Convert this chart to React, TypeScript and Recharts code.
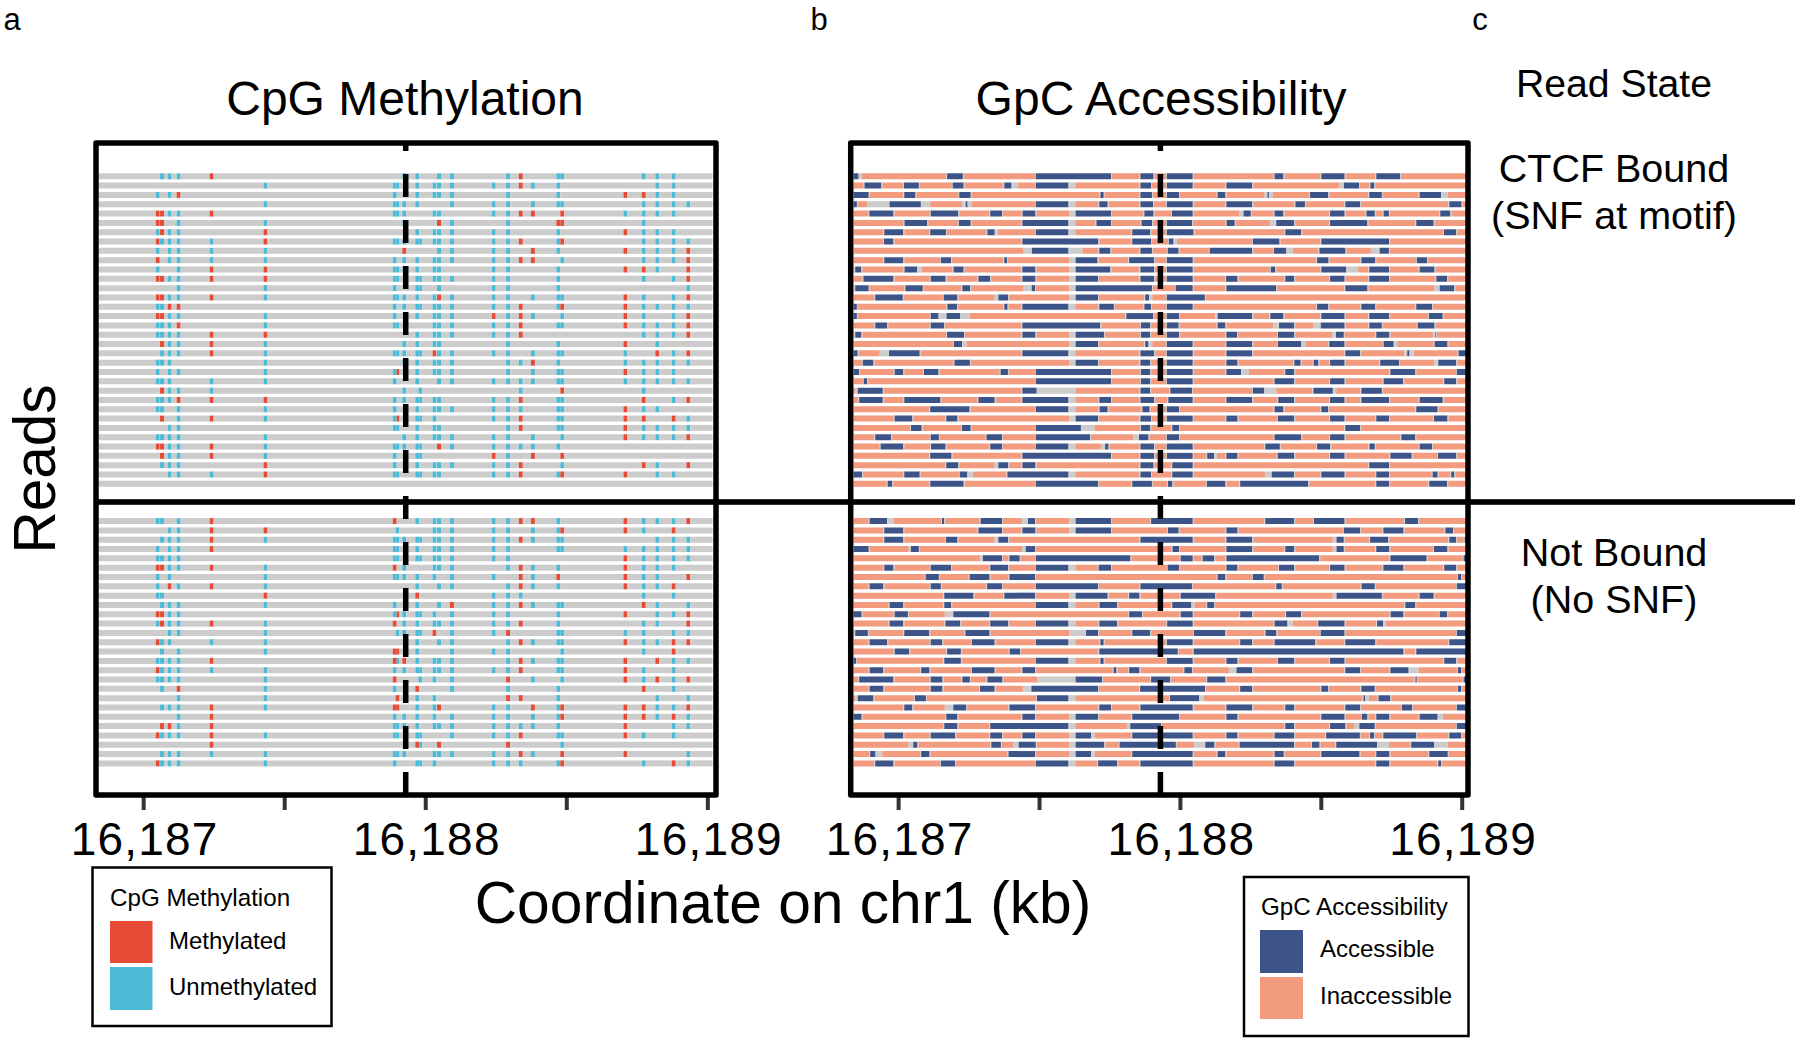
import React from "react";
import { BarChart, Bar, XAxis, YAxis, Cell, ReferenceLine } from "recharts";

// All positions are base pairs from the start of the plotted window on chr1.
const windowStartKb = 16186.831;
const axisTicks = [169, 669, 1169, 1669, 2169];
const motifCentre = 1098;
const readStart = 9;
const readEnd = 2186;

const cpgSites = [219, 234, 261, 293, 410, 601, 1059, 1069, 1093, 1139, 1150, 1200, 1216, 1262, 1410, 1461, 1506, 1549, 1639, 1653, 1877, 1942, 1990, 2048, 2100];

// One character per CpG site: u unmethylated, m methylated, . no call
const cpgBound = [
  ".uuum ...uu ..uu. um.uu .uuu.",
  "..... uuu.u .uuuu umuu. ..uu.",
  "u.um. .u..u .uuu. u..u. mmuu.",
  "..... uuuuu ...uu u.uuu .uuuu",
  "mmuum .uuu. .uu.u umm.m uuuu.",
  "mm.u. u..u. ..mu. u..mm .u...",
  "umuu. m...u .uuuu u..u. muuu.",
  "muuuu muuuu uuuuu um.um .uuuu",
  "u.uuu u..m. ..uuu u.mu. muuum",
  "m.uuu uu.uu .uuuu umm.u .uuum",
  "u..um muuuu .uu.u u..u. mmu.m",
  "mmuum muu.u uuuuu u..u. .u.um",
  "...u. uu..u u.u.u u..u. ....u",
  "mmuum uuuuu .umuu u.uuu mu.um",
  "uumm. .u.uu uuuuu um.um muuuu",
  "mmuu. uu..u .uuum umu.u mu.um",
  "uuum. uuu.. .uuuu um.uu muuum",
  "uuuum m...u .uuuu um... .uuum",
  ".muum u..uu .uu.. u..u. m.u..",
  ".uuum uuuuu umuuu u.uuu u.mum",
  "uuu.. u..uu .uuu. uumu. uuuuu",
  "u.uu. uum.u .uuu. u.uuu muuu.",
  "uuu.u uu..u ..uuu uuuuu uuuuu",
  ".muuu ...u. u.... .u..m .u...",
  "uuumm mu.uu uuu.u um.uu .m.um",
  "uu.u. uu..u .uuuu uu.uu muu..",
  ".m.um uum.u uu..u um.uu mm.mu",
  "..uu. .uu.u .uu.. um.uu muuuu",
  "uuuu. u..uu .uuuu u.u.u muuum",
  "mmuum uuuuu u.muu uuuu. .....",
  ".muum uu..u u...m u.m.m .....",
  ".uuu. mu..u .uuuu um..u .mu.m",
  "..uuu muu.u uuu.u um.um m.uu.",
  "..... ..... ..... ..... .....",
];

const cpgFree = [
  "uu.um .m..u .uuuu ummu. muuum",
  "..uum m.u.. .uuuu u.uum mu.m.",
  ".uuum uuuuu uuuuu umuuu ..uuu",
  "u.uum .uu.u .uuuu u..uu uuuuu",
  "uuuu. .uu.u uuuuu u.... muuuu",
  "mmuum um.u. .uuu. umuu. muuu.",
  "u.u.. uuuuu .u.uu .mum. muu.m",
  "u.mum u...u ..uu. umuu. muum.",
  "uu... m...m ....u uu... .u.u.",
  ".uuu. uu..u ..umu umuuu .mu.u",
  "mmuu. .umuu uu.uu u..u. m.uum",
  "umuum um.uu .uuuu um.u. .uu.m",
  "..uu. u.uuu um.uu m..uu uu.uu",
  "muu.u u...u ..uu. umuuu muumm",
  ".u.u. umm.u ...uu u...u .u.m.",
  "uuuum .mumu .uuu. umuuu m.muu",
  "muuuu uu.uu uuuuu um.uu mu.u.",
  "uuuu. um... uu.u. m.u.u mumum",
  ".u.m. uu..m ...u. u..u. .m.u.",
  "...u. u.m.u .u... mm.u. ..u.u",
  ".uuum umm.u .um.u u.mum mmuum",
  "...um .u.uu .u.uu u.uum mmumu",
  ".mmum .uuuu .uuuu uuuu. m..uu",
  "muuum uuu.u u..uu um.uu mu.u.",
  "....m ....m u.m.. m...u .....",
  ".uuuu uuuu. .uuuu umu.m m...u",
  "muuu. uu..u uu..u uu.um .u.mu",
];

// Start/end pairs of the accessible stretches of each read
const gpcAccessibleBound = [
  [9,27,341,397,656,923,1027,1074,1121,1213,1503,1535,1669,1752,1864,1949],
  [48,108,188,241,361,400,544,570,656,772,1027,1065,1121,1213,1332,1424,1749,1803,1843,1857],
  [9,63,189,229,384,425,885,897,1027,1068,1121,1164,1301,1329,1478,1483,1629,1694,1839,1884,2018,2094],
  [9,21,137,248,407,414,656,772,881,911,1027,1072,1121,1213,1332,1424,1577,1611,1754,1807,2123,2167],
  [65,151,283,381,494,536,609,655,797,923,1041,1074,1139,1213,1393,1419,1503,1535,1700,1752,1829,1859,1890,1909,2091,2127],
  [190,271,383,425,608,772,871,923,1031,1069,1121,1211,1333,1362,1509,1573,1700,1833,2006,2068],
  [118,186,281,337,484,510,656,772,998,1062,1121,1216,1541,1598,2104,2148],
  [117,151,608,878,998,1065,1128,1145,1426,1521,1669,1910],
  [642,772,881,921,1027,1068,1124,1163,1273,1424,1501,1545,1662,1755,1876,1909],
  [118,186,319,355,544,554,797,875,987,1076,1121,1213,1654,1695,1811,1861,2008,2044],
  [15,37,190,235,364,400,608,655,797,921,1027,1076,1121,1213,1490,1506,1669,1758,1839,1910,2018,2071],
  [44,151,283,336,452,494,608,655,797,877,1027,1076,1121,1213,1331,1372,1541,1573,1700,1752,1839,1910,2077,2116],
  [15,63,193,255,395,423,641,653,797,1068,1152,1213,1332,1509,1754,1833,2089,2141],
  [86,184,329,378,523,558,797,877,1044,1058,1121,1256],
  [9,21,342,377,544,556,608,772,881,933,1041,1065,1121,1213,1654,1694,1811,1861,2006,2062],
  [9,21,283,311,339,388,977,1072,1121,1164,1301,1424,1488,1535,1669,1752,1839,1910,2051,2100],
  [86,129,283,330,608,885,1029,1062,1121,1163,1301,1329,1519,1573,1667,1752,1839,1884,2011,2071],
  [15,37,341,401,608,655,797,898,1029,1062,1121,1164,1332,1370,1515,1573,1721,1749,1864,1911,2074,2077],
  [365,394,797,877,1044,1056,1121,1213,1332,1424,1515,1598,1697,1752,1890,1926,2071,2117],
  [9,24,135,244,608,772,1027,1076,1121,1213,1332,1424,1754,1807,1974,1982,2156,2186],
  [42,80,367,422,797,877,1027,1062,1121,1213,1332,1372,1573,1596,1642,1659,1700,1752,1878,1945,2084,2148],
  [9,29,155,186,259,311,531,557,656,923,1029,1062,1121,1213,1332,1384,1541,1573,1914,2003,2150,2186],
  [45,58,656,923,1029,1062,1121,1213,1503,1573,1700,1752,1890,1960,2105,2148],
  [24,113,608,659,1027,1062,1133,1210,1426,1467,1641,1710,1811,1884],
  [29,113,189,318,452,510,608,772,881,923,1027,1076,1126,1213,1332,1424,1516,1573,1700,1752,1811,1910,2018,2100],
  [281,421,656,772,882,911,1034,1060,1121,1164,1503,1535,1669,1693,2006,2082],
  [155,218,338,378,797,877,1027,1065,1121,1213,1332,1372,1515,1573,1700,1752,1864,1910,2069,2117],
  [213,251,394,425,656,816,1029,1062,1140,1164,1754,1807],
  [86,143,283,312,481,536,656,849,1022,1056,1121,1164,1503,1598,1700,1752,1953,2003],
  [105,186,284,336,494,536,656,772,902,914,1027,1076,1121,1213,1470,1522,1654,1701,1840,1859,2018,2062],
  [281,357,608,923,1027,1076,1121,1213,1264,1289,1332,1372,1514,1573,1700,1752,1914,1990,2083,2148],
  [338,381,523,558,608,655,1027,1074,1140,1213,1839,1910],
  [9,39,189,244,386,413,555,772,1027,1065,1140,1213,1493,1572,1669,1752,1864,1910,2064,2082,2130,2141],
  [130,147,281,400,656,877,998,1068,1125,1141,1263,1329,1381,1623,1864,1910,2052,2116],
];

// Start/end pairs of the stretches with no call on each read
const gpcNoCallBound = [
  [27,39],
  [539,544,572,593,774,796,1732,1748],
  [1468,1478,1483,1497,2095,2118],
  [59,137,249,281,394,407,414,429,774,796],
  [774,796,1379,1391],
  [774,796,1488,1507],
  [510,522,774,796],
  [1147,1157],
  [613,642,774,821,1547,1568,1845,1876],
  [774,796],
  [236,252,774,796,1758,1800],
  [774,796],
  [613,640,774,796,2071,2087],
  [510,523,774,796,1059,1069],
  [774,796],
  [313,336,390,421,1293,1301],
  [1500,1517,1642,1665],
  [774,796,1708,1720,2065,2074,2077,2079],
  [395,410,774,796,1058,1069,1600,1612,1927,1938],
  [102,135,774,796,1964,1974,1982,1997],
  [774,796,2070,2082],
  [1386,1412],
  [],
  [15,24,660,796,1467,1509,1711,1722],
  [774,796],
  [774,796],
  [774,796],
  [817,864],
  [1003,1021],
  [774,796,887,902],
  [1292,1299],
  [510,523],
  [414,433,774,796,1470,1491],
  [],
];

const gpcAccessibleFree = [
  [66,128,323,331,460,536,628,654,797,923,1065,1213,1470,1573,1643,1752,1966,2013],
  [118,186,452,536,608,655,797,923,1125,1163,1332,1372,1749,1807,1889,1961,2109,2137],
  [118,186,337,378,523,558,1027,1213,1332,1424,1723,1749,1842,1907,2123,2147,2178,2186],
  [9,63,213,241,620,654,1141,1164,1332,1424,1541,1573,1723,1749,1864,1911,2069,2117],
  [468,536,562,599,656,992,1170,1213,1248,1289,1332,1662,1914,2043,2174,2186],
  [118,151,283,356,494,558,656,772,879,923,1124,1164,1332,1372,1519,1573,1700,1752,1889,1961,2105,2148],
  [265,312,421,492,562,653,1301,1329,1426,1465,2154,2166],
  [66,115,283,319,483,536,656,877,1027,1210,1509,1529,1812,1859,2150,2186],
  [331,435,544,654,797,911,987,1024,1170,1293,1723,1884,2018,2068],
  [137,186,331,356,656,772,882,945,1140,1208,1264,1289,1967,2003],
  [9,38,155,202,363,492,987,1033,1170,1213,1381,1424,1544,1598,1915,1961,2089,2116],
  [137,186,335,388,494,558,656,772,881,945,1122,1213,1503,1549,1658,1752,1867,1888],
  [15,60,189,278,406,492,834,877,998,1062,1217,1329,1471,1510,1667,1752,2150,2186],
  [66,129,283,324,429,510,656,772,885,897,1121,1213,1381,1424,1503,1648,1754,1861,2123,2186],
  [155,207,341,390,563,600,881,1160,1216,1961,2006,2186],
  [9,18,331,390,656,772,885,897,1121,1213,1332,1372,1515,1573,1700,1752,2105,2148],
  [66,115,249,279,429,510,608,654,932,942,987,1024,1183,1210,1368,1424,1754,1807,1914,1979,2154,2166],
  [29,151,283,325,395,422,484,538,797,891,1065,1133,1264,1329,2003,2008,2174,2186],
  [66,115,283,325,458,510,640,877,1026,1257,1381,1424,1669,1693,1811,1859,2154,2166],
  [24,80,227,266,660,772,1132,1236,1819,1825,1872,1914],
  [189,218,363,409,562,654,881,923,1027,1213,1332,1424,1541,1573,1754,1807,1955,1991,2150,2186],
  [9,38,338,378,608,654,797,877,998,1164,1332,1372,1669,1752,1813,1833,1864,1911,2018,2082],
  [331,378,494,772,991,1100,1541,1573,1700,1755,1804,1859,2150,2186],
  [118,186,283,370,494,536,608,654,797,852,998,1213,1332,1372,1503,1573,1686,1806,1842,1857,1889,2006,2123,2166],
  [221,236,498,532,595,656,797,899,953,1153,1257,1290,1379,1573,1636,1663,1722,1867,1988,2070],
  [68,87,249,279,559,654,797,852,998,1213,1301,1329,1503,1536,1669,1805,1864,1911,2052,2118],
  [86,151,319,369,656,772,877,945,1027,1213,1503,1573,1864,1911,2084,2094],
];

const gpcNoCallFree = [
  [129,151,607,627,774,796],
  [774,796],
  [510,522,1710,1722],
  [205,213,607,619,1710,1722],
  [459,468],
  [774,796],
  [],
  [],
  [774,796,1710,1722],
  [774,796,1209,1219],
  [333,362],
  [774,796,1552,1567,1888,1897],
  [774,833],
  [774,796],
  [],
  [774,796],
  [1341,1367,1981,2014],
  [661,796],
  [610,639],
  [15,24,774,796,1237,1251,1826,1838],
  [333,362],
  [774,796,2082,2101],
  [774,796,979,991,1787,1803],
  [774,796,853,865],
  [205,220,575,594,774,796,1219,1254,1868,1909,2071,2118],
  [87,111,774,796,853,865],
  [774,796],
];

const separatorRows = 3;

const RED = "#E64B35";
const CYAN = "#4DBBD5";
const NAVY = "#3C5488";
const SALMON = "#F39B7F";
const GREY = "#CCCCCC";
const FONT = "'Liberation Sans', Arial, sans-serif";

type Seg = { len: number; fill: string };

function cpgSegments(code: string): Seg[] {
  const states = code.replace(/ /g, "");
  const segs: Seg[] = [{ len: readStart, fill: "none" }];
  let cur = readStart;
  cpgSites.forEach((site, i) => {
    const st = states[i];
    if (st === "." || st === undefined) return;
    const s = Math.max(cur, site - 7);
    const e = site + 7;
    if (s > cur) segs.push({ len: s - cur, fill: GREY });
    segs.push({ len: e - s, fill: st === "m" ? RED : CYAN });
    cur = e;
  });
  segs.push({ len: readEnd - cur, fill: GREY });
  return segs;
}

function gpcSegments(acc: number[], gaps: number[]): Seg[] {
  const iv: { s: number; e: number; blue: boolean }[] = [];
  for (let i = 0; i < acc.length; i += 2) iv.push({ s: acc[i], e: acc[i + 1], blue: true });
  for (let i = 0; i < gaps.length; i += 2) iv.push({ s: gaps[i], e: gaps[i + 1], blue: false });
  iv.sort((a, b) => a.s - b.s);
  const segs: Seg[] = [{ len: readStart, fill: "none" }];
  const EDGE = 3;
  let cur = readStart;
  let prevBlue = false;
  const fillTo = (end: number, nextBlue: boolean) => {
    const len = end - cur;
    if (len <= 0) return;
    const l = prevBlue ? EDGE : 0;
    const r = nextBlue ? EDGE : 0;
    if (len <= l + r) {
      segs.push({ len, fill: GREY });
    } else {
      if (l) segs.push({ len: l, fill: GREY });
      segs.push({ len: len - l - r, fill: SALMON });
      if (r) segs.push({ len: r, fill: GREY });
    }
  };
  iv.forEach((v) => {
    const s = Math.max(v.s, cur);
    if (v.e <= s) return;
    fillTo(s, v.blue);
    segs.push({ len: v.e - s, fill: v.blue ? NAVY : GREY });
    cur = v.e;
    prevBlue = v.blue;
  });
  fillTo(readEnd, false);
  return segs;
}

function buildTable(top: Seg[][], bottom: Seg[][]) {
  const blank: Seg[][] = Array.from({ length: separatorRows }, () => []);
  const all = [...top, ...blank, ...bottom];
  const rows = all.map((segs, i) => {
    const row: Record<string, string | number> = { read: `r${i}` };
    segs.forEach((sg, k) => {
      row[`s${k}`] = sg.len;
      row[`c${k}`] = sg.fill;
    });
    return row;
  });
  const depth = Math.max(...all.map((s) => s.length));
  return { rows, depth };
}

const cpgTable = buildTable(cpgBound.map(cpgSegments), cpgFree.map(cpgSegments));
const gpcTable = buildTable(
  gpcAccessibleBound.map((a, i) => gpcSegments(a, gpcNoCallBound[i])),
  gpcAccessibleFree.map((a, i) => gpcSegments(a, gpcNoCallFree[i]))
);

// Only the whole-kb ticks carry a label; the half-kb ticks stay bare.
const formatKb = (v: number) => {
  const pos = windowStartKb + v / 1000;
  const kb = Math.round(pos);
  if (Math.abs(pos - kb) > 0.01) return "";
  return `${Math.floor(kb / 1000)},${String(kb % 1000).padStart(3, "0")}`;
};

function ReadPanel({ table, left, width, domainEnd }: { table: { rows: any[]; depth: number }; left: number; width: number; domainEnd: number }) {
  const padL = 30;
  const padR = 75;
  return (
    <div style={{ position: "absolute", left: left - padL, top: 143 }}>
      <BarChart
        width={width + padL + padR}
        height={652 + 90}
        data={table.rows}
        layout="vertical"
        margin={{ top: 0, right: padR, bottom: 0, left: padL }}
        barCategoryGap={0}
      >
        <XAxis
          type="number"
          domain={[0, domainEnd]}
          ticks={axisTicks}
          interval={0}
          allowDataOverflow
          height={90}
          axisLine={false}
          tickSize={15}
          tickMargin={12}
          tickLine={{ stroke: "#333333", strokeWidth: 4 }}
          tick={{ fontSize: 46, fill: "#000000", fontFamily: FONT, dx: 1, letterSpacing: 1.2 }}
          tickFormatter={formatKb}
        />
        <YAxis type="category" dataKey="read" hide padding={{ top: 28.3, bottom: 27.3 }} />
        {Array.from({ length: table.depth }, (_, k) => (
          <Bar key={k} dataKey={`s${k}`} stackId="read" barSize={6} isAnimationActive={false} legendType="none">
            {table.rows.map((row, i) => (
              <Cell key={i} fill={(row[`c${k}`] as string) || "none"} />
            ))}
          </Bar>
        ))}
        <ReferenceLine x={motifCentre} stroke="#000000" strokeWidth={5.5} strokeDasharray="23 23" />
      </BarChart>
    </div>
  );
}

function T({ x, y, size, anchor = "middle", children, rotate }: { x: number; y: number; size: number; anchor?: string; children: React.ReactNode; rotate?: number }) {
  return (
    <text
      x={x}
      y={y}
      fontSize={size}
      fontFamily={FONT}
      fill="#000000"
      textAnchor={anchor as any}
      dominantBaseline="central"
      transform={rotate ? `rotate(${rotate} ${x} ${y})` : undefined}
    >
      {children}
    </text>
  );
}

export default function App() {
  return (
    <div style={{ position: "absolute", left: 0, top: 0, width: 1800, height: 1041, background: "#ffffff", overflow: "hidden" }}>
      <ReadPanel table={cpgTable} left={96} width={620} domainEnd={2198} />
      <ReadPanel table={gpcTable} left={850.7} width={617.3} domainEnd={2190.6} />
      <svg width={1800} height={1041} style={{ position: "absolute", left: 0, top: 0, pointerEvents: "none" }}>
        <rect x={96} y={143} width={620} height={652} fill="none" stroke="#000" strokeWidth={5.5} strokeLinejoin="round" />
        <rect x={850.7} y={143} width={617.3} height={652} fill="none" stroke="#000" strokeWidth={5.5} strokeLinejoin="round" />
        <rect x={96} y={499.2} width={1699} height={5.6} fill="#000" />

        <T x={12} y={19} size={31}>a</T>
        <T x={819} y={19} size={31}>b</T>
        <T x={1480} y={19} size={31}>c</T>

        <T x={405} y={98} size={48}>CpG Methylation</T>
        <T x={1161} y={98} size={48}>GpC Accessibility</T>
        <T x={1614} y={83} size={39.2}>Read State</T>
        <T x={1614} y={168} size={39.5}>CTCF Bound</T>
        <T x={1614} y={215} size={39.5}>(SNF at motif)</T>
        <T x={1614} y={552} size={39.5}>Not Bound</T>
        <T x={1614} y={599} size={39.5}>(No SNF)</T>

        <T x={34} y={469} size={58.5} rotate={-90}>Reads</T>
        <T x={783} y={902} size={58.7}>Coordinate on chr1 (kb)</T>

        <rect x={92.5} y={867.5} width={239} height={158.5} fill="none" stroke="#000" strokeWidth={2.5} />
        <T x={110} y={897} size={24.2} anchor="start">CpG Methylation</T>
        <rect x={110} y={921} width={42.5} height={42} fill={RED} />
        <rect x={110} y={967} width={42.5} height={43} fill={CYAN} />
        <T x={169} y={940} size={24} anchor="start">Methylated</T>
        <T x={169} y={986} size={24} anchor="start">Unmethylated</T>

        <rect x={1244} y={877} width={224.5} height={159} fill="none" stroke="#000" strokeWidth={2.5} />
        <T x={1261} y={906} size={24.2} anchor="start">GpC Accessibility</T>
        <rect x={1260} y={930} width={43} height={43} fill={NAVY} />
        <rect x={1260} y={977} width={43} height={42} fill={SALMON} />
        <T x={1320} y={948} size={24} anchor="start">Accessible</T>
        <T x={1320} y={995} size={24} anchor="start">Inaccessible</T>
      </svg>
    </div>
  );
}
